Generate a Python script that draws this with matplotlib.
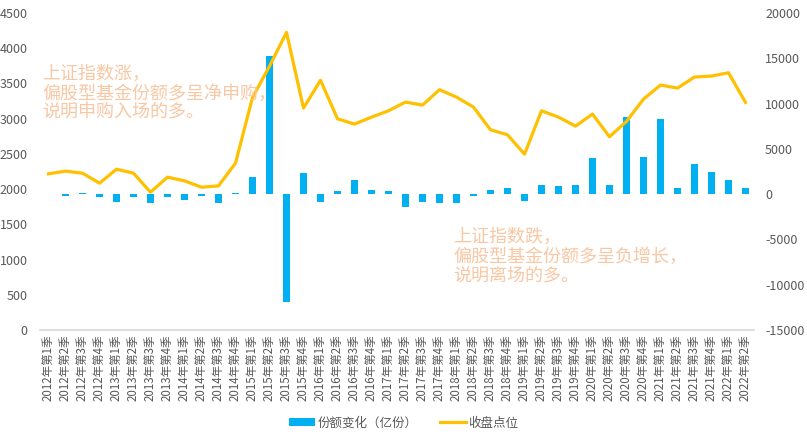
import numpy as np
import matplotlib
matplotlib.use("Agg")
from matplotlib import pyplot as plt
from matplotlib.patches import Patch
from matplotlib.lines import Line2D

plt.rcParams['font.family'] = ['Noto Sans CJK SC', 'DejaVu Sans']
plt.rcParams['axes.unicode_minus'] = False

# quarters 2012Q1 .. 2022Q2
years = [2012] * 4 + [2013] * 4 + [2014] * 4 + [2015] * 4 + [2016] * 4 + [2017] * 4 \
    + [2018] * 4 + [2019] * 4 + [2020] * 4 + [2021] * 4 + [2022] * 2
quarters = [1, 2, 3, 4] * 10 + [1, 2]
categories = [f"{y}年第{q}季" for y, q in zip(years, quarters)]

# share change (100M units), right axis
share_change = [0, -150, 150, -350, -920, -350, -1030, -350, -700, -250,
                -1030, 150, 1900, 15230, -11930, 2350, -920, 400, 1600, 500,
                300, -1470, -920, -1030, -1030, -250, 500, 700, -800, 1050,
                950, 1050, 4000, 1050, 8550, 4150, 8250, 650, 3300, 2400,
                1600, 650]

# closing index level, left axis
close_level = [2217, 2255, 2226, 2084, 2283, 2226, 1956, 2170, 2117, 2027,
               2046, 2369, 3300, 3745, 4225, 3150, 3545, 2998, 2923, 3022,
               3112, 3235, 3193, 3411, 3306, 3164, 2842, 2771, 2496, 3112,
               3022, 2894, 3065, 2743, 2961, 3278, 3477, 3434, 3591, 3605,
               3652, 3231]

bar_color = "#00B0F0"
line_color = "#FFC000"
text_color = "#F8C7A3"
tick_color = "#595959"

W, H = 807, 437
fig = plt.figure(figsize=(W / 100, H / 100), dpi=100)
ax_bar = fig.add_axes([40 / W, 1 - 330 / H, 714 / W, 317 / H])
ax_line = ax_bar.twinx()

x = np.arange(len(categories))
ax_bar.bar(x, share_change, width=0.47, color=bar_color, zorder=2)
ax_line.plot(x, close_level, color=line_color, linewidth=2.3, zorder=3)

ax_bar.set_xlim(-0.5, len(categories) - 0.5)
ax_bar.set_ylim(-15000, 20000)
ax_bar.set_yticks(np.arange(-15000, 20001, 5000))
ax_line.set_ylim(0, 4500)
ax_line.set_yticks(np.arange(0, 4501, 500))

# bars use the right scale, line uses the left scale
ax_bar.yaxis.tick_right()
ax_line.yaxis.tick_left()

for a in (ax_bar, ax_line):
    for s in a.spines.values():
        s.set_visible(False)
ax_bar.spines['bottom'].set_visible(True)
ax_bar.spines['bottom'].set_color("#D9D9D9")
ax_bar.spines['bottom'].set_linewidth(1.2)

ax_bar.set_xticks(x)
ax_bar.set_xticklabels(categories, rotation=90, fontsize=8.3, color=tick_color)
ax_bar.tick_params(axis='x', length=0, pad=3)
ax_bar.tick_params(axis='y', length=0, pad=8, labelsize=9, labelcolor=tick_color)
ax_line.tick_params(axis='y', length=0, pad=9, labelsize=9, labelcolor=tick_color)
ax_line.tick_params(axis='x', length=0)

fig.text(42 / W, 1 - 65 / H, "上证指数涨，\n偏股型基金份额多呈净申购，\n说明申购入场的多。",
         color=text_color, fontsize=13, va='top', ha='left', linespacing=1.1)
fig.text(453 / W, 1 - 228 / H, "上证指数跌，\n偏股型基金份额多呈负增长，\n说明离场的多。",
         color=text_color, fontsize=13, va='top', ha='left', linespacing=1.1)

handles = [Patch(facecolor=bar_color, edgecolor='none'),
           Line2D([], [], color=line_color, linewidth=2.3)]
fig.legend(handles, ["份额变化（亿份）", "收盘点位"], loc='center',
           bbox_to_anchor=(0.5, 1 - 423 / H), ncol=2, frameon=False,
           fontsize=9, handlelength=2.1, handleheight=0.55, handletextpad=0.2,
           columnspacing=1.8, labelcolor=tick_color)

fig.savefig("out.png", dpi=100)
